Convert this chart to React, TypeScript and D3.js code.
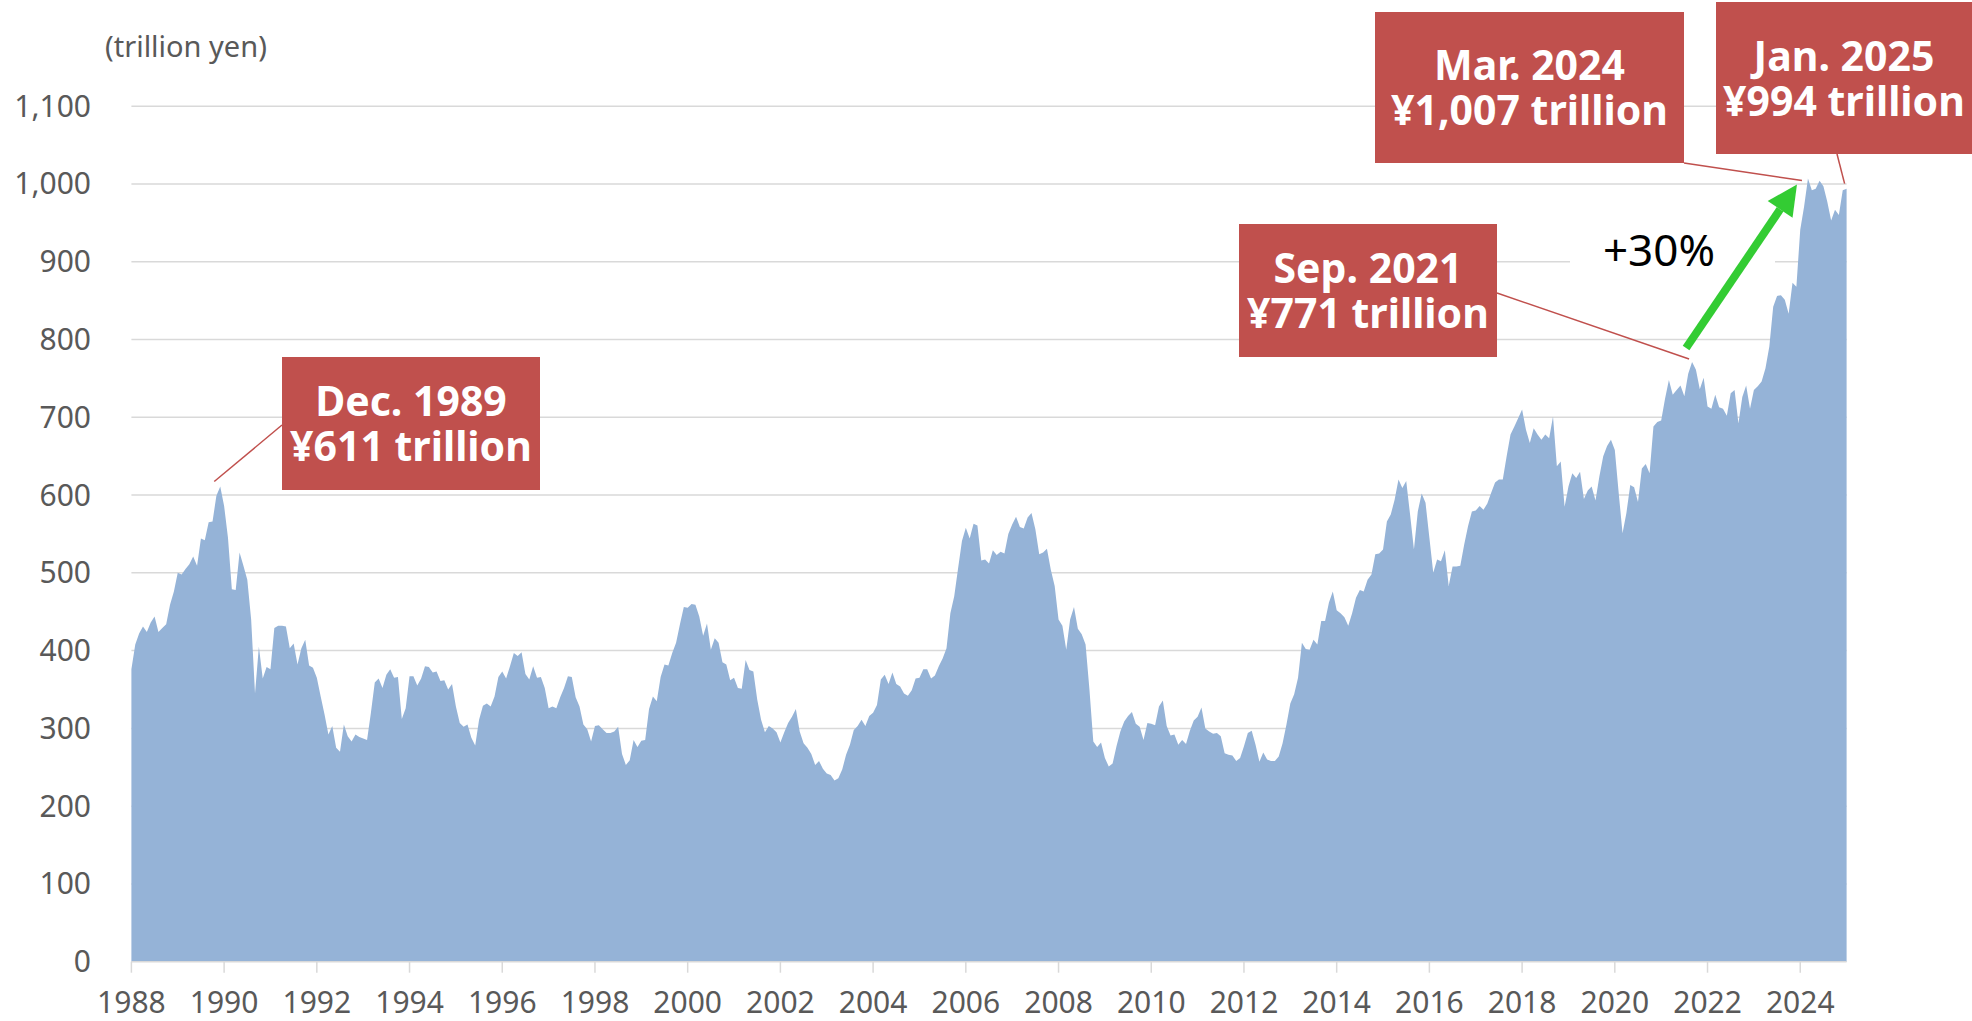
import React, { Component } from "react";
import * as d3 from "d3";

// monthly market capitalisation, trillion yen, Jan 1988 .. Jan 2025
const startYear = 1988;
const marketCap = [
  376, 408, 422, 431, 424, 436, 444, 424, 429, 434, 459, 476, // 1988
  500, 498, 505, 511, 521, 509, 544, 542, 565, 566, 599, 611, // 1989
  586, 545, 479, 478, 526, 509, 491, 440, 345, 405, 364, 379, // 1990
  376, 429, 432, 432, 431, 403, 409, 382, 403, 414, 381, 378, // 1991
  365, 341, 318, 292, 303, 275, 270, 305, 290, 283, 292, 289, // 1992
  287, 285, 320, 359, 364, 352, 369, 376, 365, 366, 312, 326, // 1993
  367, 367, 355, 364, 380, 379, 372, 373, 361, 362, 350, 357, // 1994
  328, 307, 302, 305, 288, 278, 311, 329, 332, 328, 341, 366, // 1995
  373, 364, 380, 397, 393, 398, 370, 363, 380, 365, 366, 352, // 1996
  326, 328, 326, 340, 352, 367, 366, 340, 328, 305, 299, 283, // 1997
  303, 304, 299, 294, 294, 296, 302, 267, 253, 259, 285, 276, // 1998
  284, 285, 325, 341, 335, 366, 382, 381, 397, 410, 434, 456, // 1999
  455, 460, 459, 444, 419, 435, 401, 416, 410, 385, 382, 362, // 2000
  365, 352, 351, 388, 375, 373, 337, 311, 295, 303, 300, 295, // 2001
  282, 295, 307, 315, 325, 296, 281, 275, 267, 253, 258, 248, // 2002
  242, 240, 233, 236, 247, 266, 279, 298, 303, 311, 303, 316, // 2003
  320, 330, 363, 369, 357, 372, 357, 354, 345, 342, 349, 364, // 2004
  365, 376, 376, 364, 368, 380, 390, 403, 448, 470, 506, 541, // 2005
  558, 544, 563, 561, 516, 517, 512, 529, 523, 527, 525, 550, // 2006
  562, 572, 559, 557, 571, 577, 556, 524, 526, 531, 504, 483, // 2007
  440, 432, 401, 440, 456, 428, 421, 408, 350, 283, 276, 282, // 2008
  262, 251, 255, 277, 296, 309, 316, 321, 306, 302, 285, 307, // 2009
  306, 304, 328, 336, 303, 291, 292, 279, 285, 280, 297, 310, // 2010
  315, 327, 300, 296, 293, 294, 290, 268, 266, 265, 258, 262, // 2011
  277, 294, 297, 279, 257, 269, 260, 258, 258, 264, 281, 305, // 2012
  332, 344, 365, 410, 402, 401, 414, 408, 438, 438, 462, 476, // 2013
  452, 448, 443, 432, 448, 468, 478, 476, 491, 498, 524, 525, // 2014
  530, 566, 575, 594, 620, 609, 618, 575, 530, 579, 602, 590, // 2015
  545, 500, 517, 515, 529, 483, 508, 508, 509, 536, 560, 579, // 2016
  580, 586, 581, 589, 603, 616, 620, 620, 650, 678, 688, 699, // 2017
  710, 684, 667, 686, 678, 671, 678, 673, 701, 637, 643, 585, // 2018
  611, 628, 622, 630, 595, 606, 611, 593, 624, 650, 663, 671, // 2019
  658, 603, 551, 577, 613, 610, 591, 634, 640, 628, 688, 694, // 2020
  696, 724, 748, 729, 735, 741, 727, 756, 771, 761, 736, 751, // 2021
  714, 711, 729, 713, 711, 702, 731, 735, 692, 726, 741, 711, // 2022
  735, 740, 746, 763, 791, 842, 856, 857, 851, 833, 873, 868, // 2023
  941, 971, 1007, 992, 994, 1004, 997, 977, 953, 967, 960, 992, // 2024
  994, // 2025
];

const yTicks = [0, 100, 200, 300, 400, 500, 600, 700, 800, 900, 1000, 1100];
const xTickYears = [1988, 1990, 1992, 1994, 1996, 1998, 2000, 2002, 2004, 2006, 2008, 2010, 2012, 2014, 2016, 2018, 2020, 2022, 2024];

const calloutLines = [
  ["Dec. 1989", "¥611 trillion"],
  ["Sep. 2021", "¥771 trillion"],
  ["Mar. 2024", "¥1,007 trillion"],
  ["Jan. 2025", "¥994 trillion"],
];
const calloutMonths = [23, 404, 434, 444];
const growthLabel = "+30%";
const unitLabel = "(trillion yen)";

class App extends Component {
  svgRef: React.RefObject<SVGSVGElement | null>;

  constructor(props) {
    super(props);
    this.svgRef = React.createRef();
  }

  componentDidMount() {
    this.renderChart();
  }

  componentDidUpdate() {
    this.renderChart();
  }

  renderChart() {
    const data = marketCap;
    const width = 1972;
    const height = 1021;
    const left = 131.4;
    const right = 1846.6;
    const bottom = 961.7;
    const font = "'Noto Sans', 'DejaVu Sans', sans-serif";
    const grey = "#595959";
    const red = "#C0504D";

    const svg = d3.select(this.svgRef.current)
      .attr("width", width)
      .attr("height", height);
    svg.selectAll("*").remove();

    const x_scale = d3.scaleLinear()
      .domain([0, data.length - 1])
      .range([left, right]);

    const y_scale = d3.scaleLinear()
      .domain([0, 1100])
      .range([bottom, 106.2]);

    // grid lines
    svg.append("g")
      .selectAll("line")
      .data(yTicks.filter(d => d > 0))
      .join("line")
      .attr("x1", left)
      .attr("x2", right)
      .attr("y1", d => y_scale(d))
      .attr("y2", d => y_scale(d))
      .attr("stroke", "#d9d9d9")
      .attr("stroke-width", 1.5);

    // y labels
    svg.append("g")
      .selectAll("text")
      .data(yTicks)
      .join("text")
      .attr("x", 91)
      .attr("y", d => y_scale(d))
      .attr("dy", "0.35em")
      .attr("text-anchor", "end")
      .style("font-family", font)
      .style("font-size", "30px")
      .style("fill", grey)
      .text(d => d3.format(",")(d));

    svg.append("text")
      .attr("x", 105)
      .attr("y", 57)
      .style("font-family", font)
      .style("font-size", "29px")
      .style("fill", grey)
      .text(unitLabel);

    // area
    const area = d3.area<number>()
      .x((d, i) => x_scale(i))
      .y0(y_scale(0))
      .y1(d => y_scale(d));

    svg.append("path")
      .datum(data)
      .attr("d", area)
      .attr("fill", "#95B3D7");

    // x axis
    svg.append("line")
      .attr("x1", left)
      .attr("x2", right)
      .attr("y1", bottom)
      .attr("y2", bottom)
      .attr("stroke", "#d9d9d9")
      .attr("stroke-width", 1.5);

    const xTicks = svg.append("g")
      .selectAll("g")
      .data(xTickYears)
      .join("g")
      .attr("transform", d => `translate(${x_scale((d - startYear) * 12)}, ${bottom})`);

    xTicks.append("line")
      .attr("y2", 11)
      .attr("stroke", "#d9d9d9")
      .attr("stroke-width", 1.5);

    xTicks.append("text")
      .attr("y", 51)
      .attr("text-anchor", "middle")
      .style("font-family", font)
      .style("font-size", "30px")
      .style("fill", grey)
      .text(d => d);

    // callouts: box, leader start, leader end offset from the point
    const boxes = [
      { x: 282, y: 357, w: 258, h: 133, lx: 282, ly: 425, ox: -6, oy: -5 },
      { x: 1239, y: 224, w: 258, h: 133, lx: 1497, ly: 293, ox: -3, oy: -3 },
      { x: 1375, y: 12, w: 309, h: 151, lx: 1684, ly: 163, ox: -6, oy: 2 },
      { x: 1716, y: 2, w: 262, h: 152, lx: 1837, ly: 154, ox: -2, oy: -5 },
    ];

    boxes.forEach((b, i) => {
      const m = calloutMonths[i];
      svg.append("line")
        .attr("x1", b.lx)
        .attr("y1", b.ly)
        .attr("x2", x_scale(m) + b.ox)
        .attr("y2", y_scale(data[m]) + b.oy)
        .attr("stroke", red)
        .attr("stroke-width", 1.5);

      svg.append("rect")
        .attr("x", b.x)
        .attr("y", b.y)
        .attr("width", b.w)
        .attr("height", b.h)
        .attr("fill", red);

      const cy = b.y + b.h / 2;
      calloutLines[i].forEach((t, j) => {
        svg.append("text")
          .attr("x", b.x + Math.min(b.w, width - b.x) / 2)
          .attr("y", cy + (j === 0 ? -7.5 : 37.5))
          .attr("text-anchor", "middle")
          .style("font-family", font)
          .style("font-size", "41px")
          .style("font-weight", "bold")
          .style("fill", "#ffffff")
          .text(t);
      });
    });

    // +30% label with white backing
    svg.append("rect")
      .attr("x", 1570)
      .attr("y", 222)
      .attr("width", 205)
      .attr("height", 72)
      .attr("fill", "#ffffff");

    svg.append("text")
      .attr("x", 1659)
      .attr("y", 266)
      .attr("text-anchor", "middle")
      .style("font-family", font)
      .style("font-size", "44px")
      .style("fill", "#000000")
      .text(growthLabel);

    // green arrow
    const x0 = x_scale(404) - 6;
    const y0 = y_scale(data[404]) - 14;
    const x1 = x_scale(434) - 11;
    const y1 = y_scale(data[434]) + 6;
    const ang = Math.atan2(y1 - y0, x1 - x0);
    const headLen = 30;
    const headW = 15;
    const bx = x1 - headLen * Math.cos(ang);
    const by = y1 - headLen * Math.sin(ang);
    const px = -Math.sin(ang);
    const py = Math.cos(ang);

    svg.append("line")
      .attr("x1", x0)
      .attr("y1", y0)
      .attr("x2", bx)
      .attr("y2", by)
      .attr("stroke", "#33CC33")
      .attr("stroke-width", 8);

    svg.append("polygon")
      .attr("points", [
        [x1, y1],
        [bx + px * headW, by + py * headW],
        [bx - px * headW, by - py * headW],
      ].map(p => p.join(",")).join(" "))
      .attr("fill", "#33CC33");
  }

  render() {
    return (
      <svg
        ref={this.svgRef}
        style={{ position: "absolute", left: 0, top: 0, background: "#ffffff" }}
      />
    );
  }
}

export default App;
